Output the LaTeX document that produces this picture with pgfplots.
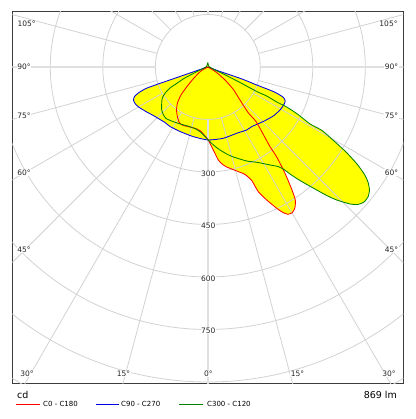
\documentclass[border=0pt]{standalone}
\usepackage{fontspec}
\setmainfont{DejaVu Sans}
\usepackage{pgfplots}
\pgfplotsset{compat=1.18}
\definecolor{cRed}{RGB}{255,0,0}
\definecolor{cBlue}{RGB}{0,0,230}
\definecolor{cGreen}{RGB}{0,128,0}
\definecolor{cYel}{RGB}{255,255,0}
\definecolor{gridc}{RGB}{210,210,210}
\definecolor{axc}{RGB}{224,224,224}
\definecolor{framec}{RGB}{60,60,60}
\begin{document}
\begin{tikzpicture}
\useasboundingbox (0pt,0pt) rectangle (415pt,419pt);
\begin{axis}[at={(12.3pt,35.7pt)}, anchor=south west, scale only axis,
  width=391pt, height=372pt,
  xmin=-558.6, xmax=558.6, ymin=-903.7, ymax=159.1,
  ticks=none, axis line style={draw=framec, line width=0.8pt}]
% yellow fills
\addplot[fill=cYel, draw=none, smooth, tension=0.35] coordinates {
(0,0) (-36.6,-12.3) (-79.4,-27.1) (-119.4,-40.9) (-146.0,-50.0) (-176.6,-61.4)
(-196.6,-72.9) (-209.4,-84.3) (-212.3,-94.3) (-208,-104.3) (-198,-114.3)
(-174.6,-128.6) (-155.7,-138.6) (-136.6,-150) (-122.3,-158.6) (-108,-170)
(-79.4,-184.3) (-41.4,-199.1) (0.6,-208.6) (44.3,-203.7) (82.6,-189.4)
(111.1,-180) (126.3,-170) (158.6,-155.7) (187.1,-140) (206.3,-122.9)
(217.7,-107.1) (221.1,-97.1) (216.3,-87.1) (203.4,-78.6) (187.1,-70)
(139.7,-51.4) (101.4,-35.7) (72.9,-25.7) (34.9,-12.9) (0,0)} -- cycle;
\addplot[fill=cYel, draw=none, smooth, tension=0.35] coordinates {
(0,0) (-19.4,-11.4) (-39.4,-31.4) (-59.4,-55.7) (-76.6,-80) (-86.6,-102.9)
(-89.4,-122.9) (-86.6,-142.9) (-82.3,-157.1) (-73.7,-165.7) (-55.7,-170.6)
(-36.6,-175.1) (-20.9,-182.8) (-8,-197.1) (1.4,-208.6) (15.7,-237.1)
(30,-265.7) (40.6,-277.1) (54,-285.7) (82.6,-297.1) (106.3,-307.1)
(125.4,-324.3) (144.3,-356.3) (168.3,-380) (196.9,-403.7) (214.8,-415.7)
(229.1,-420.8) (242,-415.7) (249.1,-401.4) (250,-380) (240.6,-351.4)
(220.6,-303.7) (196.9,-257.1) (177.7,-227.7) (158.6,-192.8) (137.7,-155.7)
(114.9,-130) (92,-94.3) (72,-62.9) (49.1,-37.1) (23.4,-14.3) (0,0)} -- cycle;
\addplot[fill=cYel, draw=none, smooth, tension=0.35] coordinates {
(0,12.9) (-3.7,1.4) (-22.3,-8.6) (-41.4,-18.6) (-68,-32.9) (-88.9,-47.1)
(-108,-60) (-122.3,-75.1) (-130,-88.6) (-131.7,-103.7) (-131.7,-122.9)
(-126.6,-137.1) (-119.4,-147.1) (-98.6,-156.3) (-73.7,-164.3) (-50.9,-170.6)
(-31.7,-178.6) (-18,-188.6) (1.4,-208.6) (17.7,-224.3) (34.9,-237.1)
(54,-248.6) (72.9,-257.1) (111.1,-268.6) (143.4,-272.8) (177.7,-280)
(200.6,-284.3) (217.7,-292.8) (234.8,-305.7) (254,-318.6) (280.6,-334.3)
(311.1,-351.4) (339.7,-367.1) (368.3,-380) (406.3,-391.4) (429.1,-392.8)
(446.3,-385.7) (457.7,-371.4) (462,-351.4) (457.7,-328.6) (447.7,-307.1)
(426.3,-277.1) (394.8,-242.8) (360.6,-211.4) (326.3,-181.4) (292,-162.8)
(257.7,-135.7) (225.4,-114.3) (196.9,-100) (168.3,-82.9) (139.7,-70)
(92,-44.3) (44.3,-20) (17.7,-7.1) (3.4,1.4) (0,12.9)} -- cycle;
% grid
\draw[gridc, line width=0.8pt] (axis cs:0,0) circle[radius=52.5pt];
\draw[gridc, line width=0.8pt] (axis cs:0,0) circle[radius=105pt];
\draw[gridc, line width=0.8pt] (axis cs:0,0) circle[radius=157.5pt];
\draw[gridc, line width=0.8pt] (axis cs:0,0) circle[radius=210pt];
\draw[gridc, line width=0.8pt] (axis cs:0,0) circle[radius=262.5pt];
\draw[gridc, line width=0.8pt] (axis cs:0,0) circle[radius=315pt];
\draw[gridc, line width=0.8pt] (axis cs:0,0) circle[radius=367.5pt];
\pgfplotsinvokeforeach{15,30,45,60,75,105,120,135,150,165,195,210,225,240,255,285,300,315,330,345}{
  \draw[gridc, line width=0.8pt] (axis cs:{150*sin(#1)},{-150*cos(#1)}) -- (axis cs:{1200*sin(#1)},{-1200*cos(#1)});
}
\pgfplotsinvokeforeach{0,90,180,270}{
  \draw[axc, line width=1.6pt] (axis cs:{150*sin(#1)},{-150*cos(#1)}) -- (axis cs:{1200*sin(#1)},{-1200*cos(#1)});
}
% curves
\addplot[cBlue, line width=0.85pt, smooth, tension=0.35] coordinates {
(0,0) (-36.6,-12.3) (-79.4,-27.1) (-119.4,-40.9) (-146.0,-50.0) (-176.6,-61.4)
(-196.6,-72.9) (-209.4,-84.3) (-212.3,-94.3) (-208,-104.3) (-198,-114.3)
(-174.6,-128.6) (-155.7,-138.6) (-136.6,-150) (-122.3,-158.6) (-108,-170)
(-79.4,-184.3) (-41.4,-199.1) (0.6,-208.6) (44.3,-203.7) (82.6,-189.4)
(111.1,-180) (126.3,-170) (158.6,-155.7) (187.1,-140) (206.3,-122.9)
(217.7,-107.1) (221.1,-97.1) (216.3,-87.1) (203.4,-78.6) (187.1,-70)
(139.7,-51.4) (101.4,-35.7) (72.9,-25.7) (34.9,-12.9) (0,0)};
\addplot[cRed, line width=0.85pt, smooth, tension=0.35] coordinates {
(0,0) (-19.4,-11.4) (-39.4,-31.4) (-59.4,-55.7) (-76.6,-80) (-86.6,-102.9)
(-89.4,-122.9) (-86.6,-142.9) (-82.3,-157.1) (-73.7,-165.7) (-55.7,-170.6)
(-36.6,-175.1) (-20.9,-182.8) (-8,-197.1) (1.4,-208.6) (15.7,-237.1)
(30,-265.7) (40.6,-277.1) (54,-285.7) (82.6,-297.1) (106.3,-307.1)
(125.4,-324.3) (144.3,-356.3) (168.3,-380) (196.9,-403.7) (214.8,-415.7)
(229.1,-420.8) (242,-415.7) (249.1,-401.4) (250,-380) (240.6,-351.4)
(220.6,-303.7) (196.9,-257.1) (177.7,-227.7) (158.6,-192.8) (137.7,-155.7)
(114.9,-130) (92,-94.3) (72,-62.9) (49.1,-37.1) (23.4,-14.3) (0,0)};
\addplot[cGreen, line width=0.85pt, smooth, tension=0.35] coordinates {
(0,12.9) (-3.7,1.4) (-22.3,-8.6) (-41.4,-18.6) (-68,-32.9) (-88.9,-47.1)
(-108,-60) (-122.3,-75.1) (-130,-88.6) (-131.7,-103.7) (-131.7,-122.9)
(-126.6,-137.1) (-119.4,-147.1) (-98.6,-156.3) (-73.7,-164.3) (-50.9,-170.6)
(-31.7,-178.6) (-18,-188.6) (1.4,-208.6) (17.7,-224.3) (34.9,-237.1)
(54,-248.6) (72.9,-257.1) (111.1,-268.6) (143.4,-272.8) (177.7,-280)
(200.6,-284.3) (217.7,-292.8) (234.8,-305.7) (254,-318.6) (280.6,-334.3)
(311.1,-351.4) (339.7,-367.1) (368.3,-380) (406.3,-391.4) (429.1,-392.8)
(446.3,-385.7) (457.7,-371.4) (462,-351.4) (457.7,-328.6) (447.7,-307.1)
(426.3,-277.1) (394.8,-242.8) (360.6,-211.4) (326.3,-181.4) (292,-162.8)
(257.7,-135.7) (225.4,-114.3) (196.9,-100) (168.3,-82.9) (139.7,-70)
(92,-44.3) (44.3,-20) (17.7,-7.1) (3.4,1.4) (0,12.9)};
\end{axis}
% angle and intensity labels
\tikzset{lab/.style={fill=white, inner sep=0.6pt, text=black!85, font=\fontsize{7.5}{9}\selectfont}}
\node[lab] at (26.7pt,395pt) {105°};
\node[lab] at (388.5pt,395pt) {105°};
\node[lab] at (24pt,352.3pt) {90°};
\node[lab] at (391.5pt,352.3pt) {90°};
\node[lab] at (24pt,303.3pt) {75°};
\node[lab] at (391.5pt,303.3pt) {75°};
\node[lab] at (24pt,246.3pt) {60°};
\node[lab] at (391.5pt,246.3pt) {60°};
\node[lab] at (24pt,169pt) {45°};
\node[lab] at (391.5pt,169pt) {45°};
\node[lab] at (27pt,45pt) {30°};
\node[lab] at (123.5pt,45pt) {15°};
\node[lab] at (208.3pt,45pt) {0°};
\node[lab] at (297.5pt,45pt) {15°};
\node[lab] at (389pt,45pt) {30°};
\node[lab] at (208.3pt,245.7pt) {300};
\node[lab] at (208.3pt,193pt) {450};
\node[lab] at (208.3pt,140.3pt) {600};
\node[lab] at (208.3pt,88pt) {750};
% footer
\node[anchor=west, inner sep=0pt, font=\fontsize{9.5}{11}\selectfont] at (17pt,24pt) {cd};
\node[anchor=east, inner sep=0pt, font=\fontsize{9.5}{11}\selectfont] at (397pt,24pt) {869 lm};
\draw[cRed, line width=0.8pt] (16pt,14.7pt) -- (40pt,14.7pt);
\node[anchor=west, inner sep=0pt, font=\fontsize{7}{8}\selectfont] at (43pt,14.7pt) {C0 - C180};
\draw[cBlue, line width=0.8pt] (96pt,14.7pt) -- (119pt,14.7pt);
\node[anchor=west, inner sep=0pt, font=\fontsize{7}{8}\selectfont] at (121pt,14.7pt) {C90 - C270};
\draw[cGreen, line width=0.8pt] (179pt,14.7pt) -- (203pt,14.7pt);
\node[anchor=west, inner sep=0pt, font=\fontsize{7}{8}\selectfont] at (207pt,14.7pt) {C300 - C120};
\end{tikzpicture}
\end{document}
